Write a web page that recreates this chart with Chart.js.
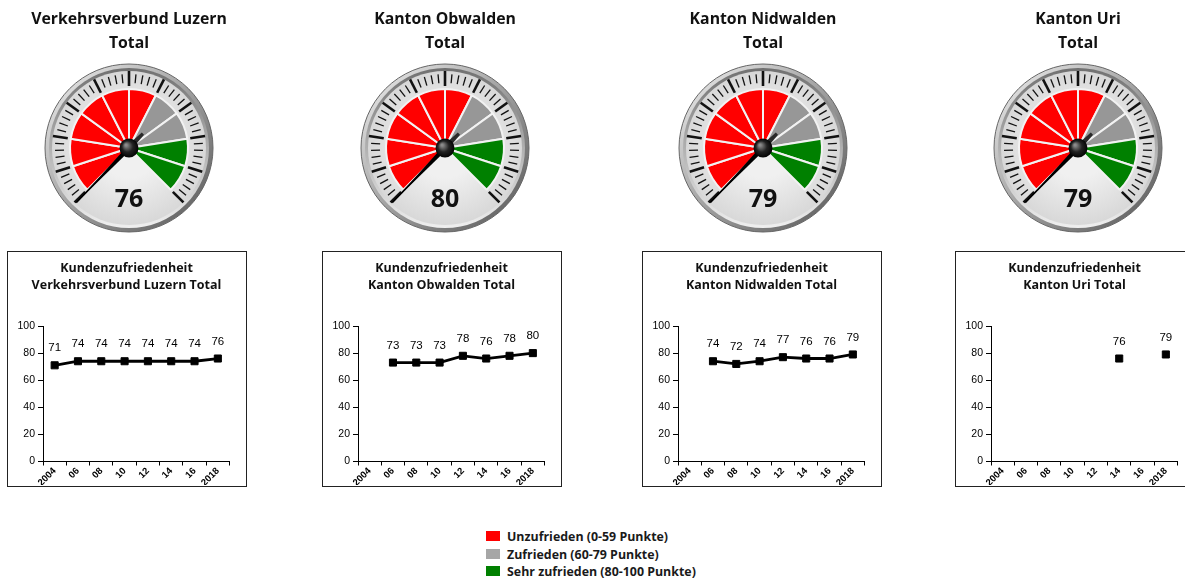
<!DOCTYPE html>
<html>
<head>
<meta charset="utf-8">
<script src="https://cdn.jsdelivr.net/npm/chart.js@4.4.1/dist/chart.umd.min.js"></script>
<style>
body{margin:0;background:#fff;width:1185px;height:581px;overflow:hidden;position:relative;font-family:'Open Sans',sans-serif}
.gauge{position:absolute;top:0}
.box{position:absolute;top:251px;width:240px;height:236px;border:1.5px solid #222;box-sizing:border-box}
.box canvas{position:absolute;left:0;top:0}
.legend{position:absolute;left:486px;top:528px;font-weight:bold;font-size:12.4px;color:#1a1a1a}
.legend .row{position:relative;height:17.5px;line-height:17.5px;padding-left:21px;white-space:nowrap}
.legend .sw{position:absolute;left:0;top:3px;width:14px;height:10px}
</style>
</head>
<body>
<div id="page"></div>
<div class="legend" id="legend"></div>
<script>
// Daten
const regions = ['Verkehrsverbund Luzern', 'Kanton Obwalden', 'Kanton Nidwalden', 'Kanton Uri'];
const gaugeValues = [76, 80, 79, 79];
const years = ['2004', '06', '08', '10', '12', '14', '16', '2018'];
const luzern = [71, 74, 74, 74, 74, 74, 74, 76];
const obwalden = [null, 73, 73, 73, 78, 76, 78, 80];
const nidwalden = [null, 74, 72, 74, 77, 76, 76, 79];
const uri = [null, null, null, null, null, 76, null, 79];
const gaugeBands = [10, 10, 10, 10, 10, 10, 10, 10, 10, 10];
const legendLabels = ['Unzufrieden (0-59 Punkte)', 'Zufrieden (60-79 Punkte)', 'Sehr zufrieden (80-100 Punkte)'];

const series = [luzern, obwalden, nidwalden, uri];
const RED = '#ff0000', GREY = '#979797', GREEN = '#008000';
const legendColors = [RED, '#a6a6a6', GREEN];

// Layout
const gaugeX = [129, 445, 763, 1078];
const boxX = [7, 322, 642, 955];

function bandColor(end){
	if (end <= 60) return RED;
	if (end <= 80) return GREY;
	return GREEN;
}
var acc = 0;
const bandColors = gaugeBands.map(function(b){ acc += b; return bandColor(acc); });

const deg = Math.PI / 180;
function polar(cx, cy, rad, a){ // a = Grad ab 12 Uhr, im Uhrzeigersinn
	var t = (a - 90) * deg;
	return [cx + rad * Math.cos(t), cy + rad * Math.sin(t)];
}

const gaugeDecor = {
	id: 'gaugeDecor',
	beforeDatasetsDraw: function(chart){
		var ctx = chart.ctx;
		var arc = chart.getDatasetMeta(0).data[0];
		var cx = arc.x, cy = arc.y, r = arc.outerRadius;
		ctx.save();
		// Rahmen
		var g = ctx.createLinearGradient(cx - r - 25, cy - r - 25, cx + r + 25, cy + r + 25);
		g.addColorStop(0, '#f2f2f2'); g.addColorStop(0.45, '#a8a8a8'); g.addColorStop(1, '#555');
		ctx.beginPath(); ctx.arc(cx, cy, r + 25, 0, 2 * Math.PI);
		ctx.fillStyle = g; ctx.fill();
		ctx.lineWidth = 1; ctx.strokeStyle = '#666'; ctx.stroke();
		g = ctx.createLinearGradient(cx, cy - r - 22, cx, cy + r + 22);
		g.addColorStop(0, '#707070'); g.addColorStop(1, '#f0f0f0');
		ctx.beginPath(); ctx.arc(cx, cy, r + 21, 0, 2 * Math.PI);
		ctx.fillStyle = g; ctx.fill();
		// Zifferblatt
		g = ctx.createRadialGradient(cx, cy, r * 0.5, cx, cy, r + 18);
		g.addColorStop(0, '#f0f0f0'); g.addColorStop(1, '#d8d8d8');
		ctx.beginPath(); ctx.arc(cx, cy, r + 18, 0, 2 * Math.PI);
		ctx.fillStyle = g; ctx.fill();
		// Skala
		ctx.strokeStyle = '#111';
		for (var v = 0; v <= 100; v += 2) {
			var a = -135 + v * 2.7;
			var major = v % 10 === 0;
			var p1 = polar(cx, cy, major ? r + 3 : r + 6, a);
			var p2 = polar(cx, cy, major ? r + 18 : r + 15, a);
			ctx.lineWidth = major ? 2.6 : 1.3;
			ctx.beginPath(); ctx.moveTo(p1[0], p1[1]); ctx.lineTo(p2[0], p2[1]); ctx.stroke();
		}
		ctx.restore();
	},
	afterDatasetsDraw: function(chart){
		var ctx = chart.ctx;
		var arc = chart.getDatasetMeta(0).data[0];
		var cx = arc.x, cy = arc.y, r = arc.outerRadius;
		var needle = -136;
		ctx.save();
		// Zeiger
		var tip = polar(cx, cy, r + 17, needle);
		var s1 = polar(cx, cy, 2.4, needle + 90), s2 = polar(cx, cy, 2.4, needle - 90);
		ctx.fillStyle = '#000';
		ctx.beginPath(); ctx.moveTo(s1[0], s1[1]); ctx.lineTo(tip[0], tip[1]); ctx.lineTo(s2[0], s2[1]); ctx.closePath(); ctx.fill();
		ctx.lineWidth = 1.6; ctx.strokeStyle = '#000';
		ctx.beginPath(); ctx.moveTo(cx, cy); ctx.lineTo(tip[0], tip[1]); ctx.stroke();
		var tail = polar(cx, cy, 20, needle + 180);
		var t1 = polar(cx, cy, 3, needle + 90), t2 = polar(cx, cy, 3, needle - 90);
		var te1 = polar(tail[0], tail[1], 1.5, needle + 90), te2 = polar(tail[0], tail[1], 1.5, needle - 90);
		ctx.fillStyle = '#2a2a2a';
		ctx.beginPath(); ctx.moveTo(t1[0], t1[1]); ctx.lineTo(te1[0], te1[1]); ctx.lineTo(te2[0], te2[1]); ctx.lineTo(t2[0], t2[1]); ctx.closePath(); ctx.fill();
		// Nabe
		var hg = ctx.createRadialGradient(cx - 3, cy - 3, 1, cx, cy, 10);
		hg.addColorStop(0, '#8a8a8a'); hg.addColorStop(0.5, '#222'); hg.addColorStop(1, '#000');
		ctx.beginPath(); ctx.arc(cx, cy, 9.5, 0, 2 * Math.PI); ctx.fillStyle = hg; ctx.fill();
		// Wert
		ctx.fillStyle = '#111';
		ctx.font = 'bold 25px "Open Sans"';
		ctx.textAlign = 'center'; ctx.textBaseline = 'middle';
		ctx.fillText(String(chart.config.options.gaugeValue), cx, cy + 52);
		ctx.restore();
	}
};

const pointLabels = {
	id: 'pointLabels',
	afterDatasetsDraw: function(chart){
		var ctx = chart.ctx;
		var vals = chart.data.datasets[0].data;
		chart.getDatasetMeta(0).data.forEach(function(pt, i){
			if (vals[i] == null) return;
			ctx.save();
			ctx.font = '11.5px "Liberation Sans"';
			ctx.fillStyle = '#000';
			ctx.textAlign = 'center'; ctx.textBaseline = 'middle';
			ctx.fillText(String(vals[i]), pt.x, pt.y - 17);
			ctx.restore();
		});
	}
};

var page = document.getElementById('page');
for (var i = 0; i < regions.length; i++) {
	var gc = document.createElement('canvas');
	gc.className = 'gauge'; gc.width = 240; gc.height = 240;
	gc.style.left = (gaugeX[i] - 120) + 'px';
	page.appendChild(gc);
	new Chart(gc, {
		type: 'doughnut',
		data: {
			labels: gaugeBands.map(function(b, k){ return 'Band ' + (k + 1); }),
			datasets: [{ data: gaugeBands, backgroundColor: bandColors, borderColor: '#f2f2f2', borderWidth: 2 }]
		},
		options: {
			gaugeValue: gaugeValues[i],
			responsive: false, animation: false, events: [],
			rotation: -135, circumference: 270, cutout: 0, radius: 59,
			layout: { padding: { top: 0, bottom: 16.3, left: 0, right: 0 } },
			plugins: {
				legend: { display: false }, tooltip: { enabled: false },
				title: { display: true, text: [regions[i], 'Total'], color: '#111',
					font: { family: 'Open Sans', size: 15.8, weight: 'bold', lineHeight: 1.52 },
					padding: { top: 7, bottom: 0 } }
			}
		},
		plugins: [gaugeDecor]
	});

	var box = document.createElement('div');
	box.className = 'box'; box.style.left = boxX[i] + 'px';
	var lc = document.createElement('canvas');
	lc.width = 237; lc.height = 233;
	box.appendChild(lc); page.appendChild(box);
	new Chart(lc, {
		type: 'line',
		data: { labels: years, datasets: [{
			data: series[i], borderColor: '#000', borderWidth: 2.8, tension: 0, spanGaps: false,
			pointStyle: 'rect', pointRadius: 5, pointBackgroundColor: '#000', pointBorderColor: '#000', pointBorderWidth: 1
		}] },
		options: {
			responsive: false, animation: false, events: [],
			layout: { padding: 0 },
			plugins: {
				legend: { display: false }, tooltip: { enabled: false },
				title: { display: true, text: ['Kundenzufriedenheit', regions[i] + ' Total'], color: '#111',
					font: { family: 'Open Sans', size: 12.5, weight: 'bold', lineHeight: 1.4 },
					padding: { top: 7.5, bottom: 31.5 } }
			},
			scales: {
				x: {
					offset: true,
					grid: { offset: true, drawOnChartArea: false, tickLength: 4, color: '#000' },
					border: { color: '#000', width: 1 },
					ticks: { minRotation: 45, maxRotation: 45, autoSkip: false, padding: 0, color: '#000',
						font: { family: 'Liberation Sans', size: 9.5, weight: 'bold' } },
					afterFit: function(s){ s.height = 23.5; }
				},
				y: {
					min: 0, max: 100,
					ticks: { stepSize: 20, padding: 3, color: '#000', font: { family: 'Liberation Sans', size: 10.5 } },
					grid: { drawOnChartArea: false, tickLength: 5, color: '#000' },
					border: { color: '#000', width: 1 },
					afterFit: function(s){ s.width = 35; }
				},
				// leerer Rand rechts, damit der Titel mittig bleibt
				yr: {
					position: 'right',
					grid: { display: false }, border: { display: false }, ticks: { display: false },
					afterFit: function(s){ s.width = 15.5; }
				}
			}
		},
		plugins: [pointLabels]
	});
}

var lg = document.getElementById('legend');
legendLabels.forEach(function(t, k){
	var row = document.createElement('div');
	row.className = 'row';
	row.innerHTML = '<span class="sw" style="background:' + legendColors[k] + '"></span>' + t;
	lg.appendChild(row);
});
</script>
</body>
</html>
